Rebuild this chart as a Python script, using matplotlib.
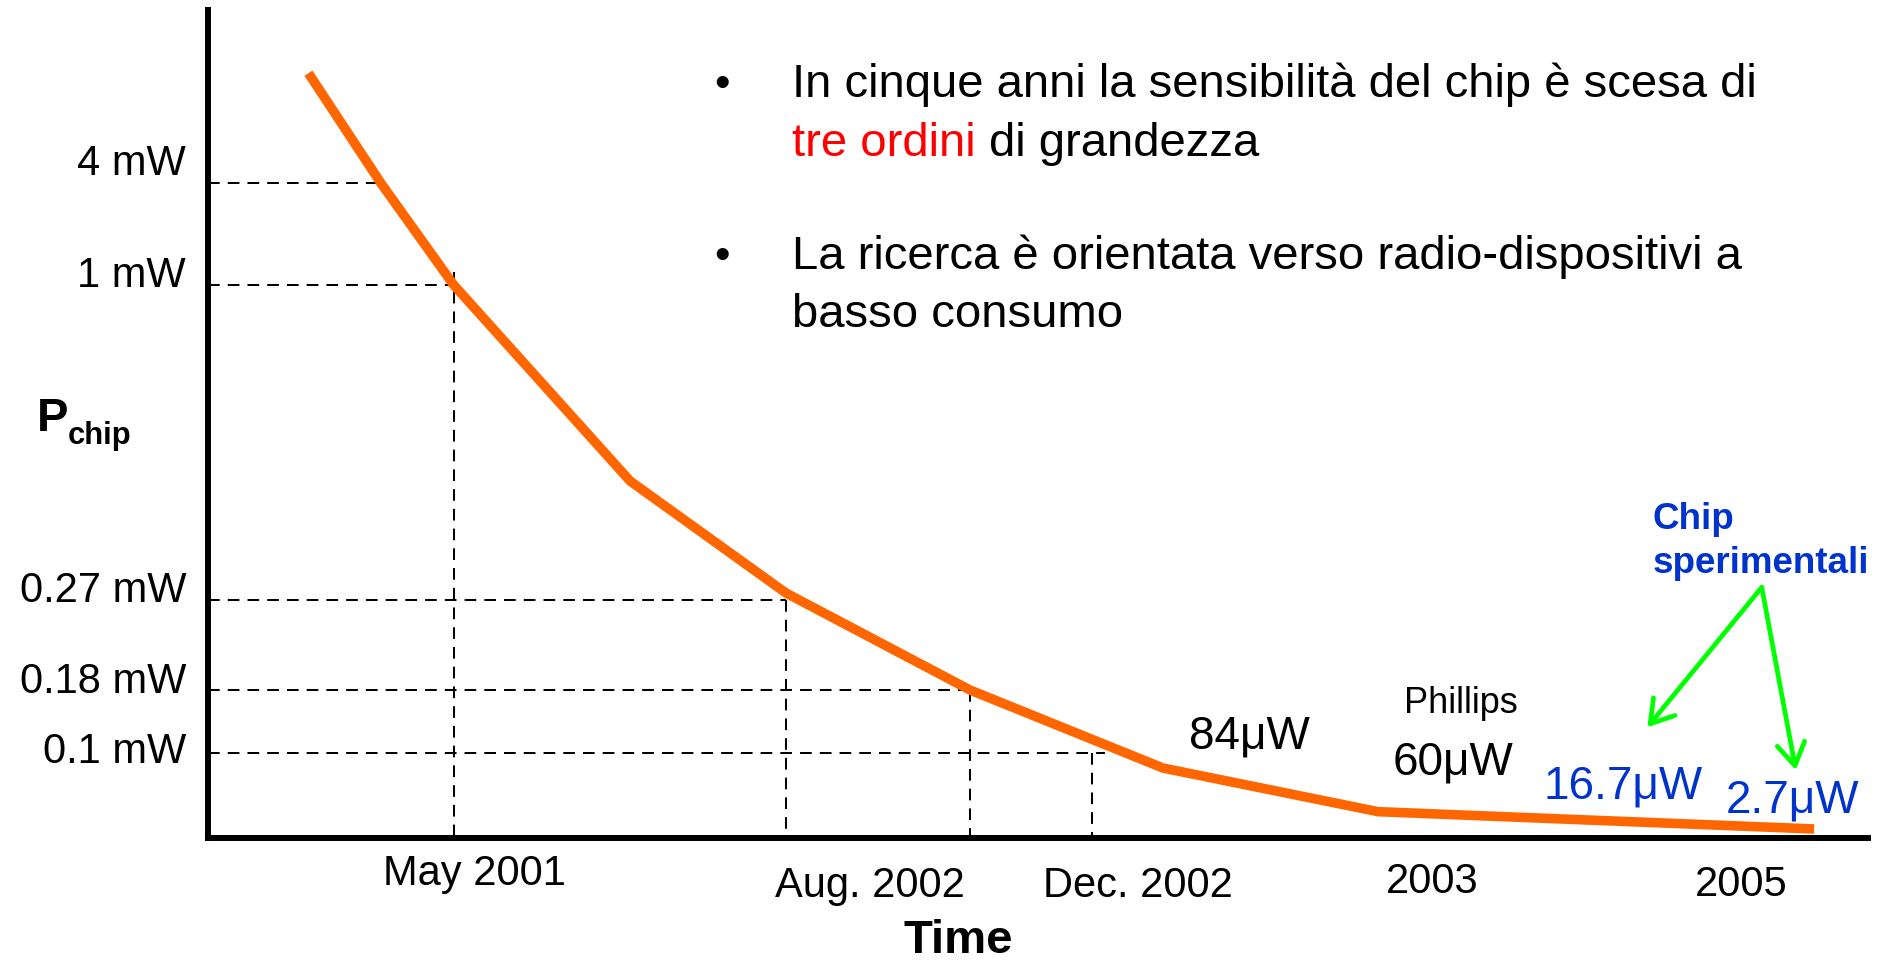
import matplotlib
matplotlib.use('Agg')
import matplotlib.pyplot as plt

# Power of the chip over time (schematic units: 0-100 along each axis)
curve_x = [6.07, 10.44, 14.82, 25.44, 34.83, 45.92, 57.54, 70.49, 96.75]
curve_y = [92.37, 79.07, 66.79, 43.12, 29.59, 17.87, 8.45, 3.18, 1.09]

# Reference power levels with their horizontal guides
level_labels = ['4 mW', '1 mW', '0.27 mW', '0.18 mW', '0.1 mW']
level_y = [79.07, 66.79, 28.74, 17.87, 10.27]
level_x_end = [10.56, 14.82, 34.83, 45.90, 54.05]

# Vertical guides dropping from the curve to the time axis
date_x = [14.82, 34.83, 45.90, 53.26]
date_y_top = [68.36, 28.74, 17.87, 10.27]

# Time axis labels
time_labels = ['May 2001', 'Aug. 2002', 'Dec. 2002', '2003', '2005']

# Power figures of individual chips
chip_values = ['84μW', '60μW', '16.7μW', '2.7μW']
chip_colors = ['black', 'black', '#0033CC', '#0033CC']

bullets = [
    ['In cinque anni la sensibilità del chip è scesa di', None],
    ['tre ordini', 'di grandezza'],
    ['La ricerca è orientata verso radio-dispositivi a', None],
    ['basso consumo', None],
]

plt.rcParams['font.family'] = ['Liberation Sans', 'DejaVu Sans']

ORANGE = '#FF6600'
BLUE = '#0033CC'
GREEN = '#00FF00'

fig = plt.figure(figsize=(18.81, 9.63), dpi=100)
ax = fig.add_axes([0.1104, 0.1298, 0.8827, 0.8598])
ax.set_xlim(0, 100)
ax.set_ylim(0, 100)
ax.set_xticks([])
ax.set_yticks([])
ax.patch.set_alpha(0)
for side in ('top', 'right'):
    ax.spines[side].set_visible(False)
for side in ('left', 'bottom'):
    ax.spines[side].set_linewidth(4.3)
    ax.spines[side].set_capstyle('projecting')
    ax.spines[side].set_color('black')

dash = (0, (5.8, 4.0))

# horizontal guides from the power axis to the curve
for y, xe in zip(level_y, level_x_end):
    ax.plot([0, xe], [y, y], color='black', lw=1.45, linestyle=dash,
            zorder=1, clip_on=False)

# vertical guides down to the time axis
for x, yt in zip(date_x, date_y_top):
    ax.plot([x, x], [yt, 0], color='black', lw=1.45, linestyle=dash,
            zorder=1, clip_on=False)

# the power curve
ax.plot(curve_x, curve_y, color=ORANGE, lw=6.9, solid_capstyle='butt',
        solid_joinstyle='miter', zorder=3, clip_on=False)

# power level labels
level_label_base = [80.07, 66.55, 28.5, 17.51, 9.06]
for lab, yb in zip(level_labels, level_label_base):
    ax.text(-1.3, yb, lab, ha='right', va='baseline', fontsize=30)

# axis titles
ax.text(-10.27, 49.1, 'P', ha='left', va='baseline', fontsize=34,
        fontweight='bold')
ax.text(-8.45, 47.6, 'chip', ha='left', va='baseline', fontsize=22.3,
        fontweight='bold')
ax.text(45.19, -13.85, 'Time', ha='center', va='baseline', fontsize=34,
        fontweight='bold')

# time labels
time_label_x = [16.05, 39.9, 56.03, 73.75, 92.35]
time_label_base = [-5.68, -7.13, -7.13, -6.64, -7.0]
for lab, x, yb in zip(time_labels, time_label_x, time_label_base):
    ax.text(x, yb, lab, ha='center', va='baseline', fontsize=30)

# chip values
chip_x = [59.1, 71.39, 80.43, 91.45]
chip_base = [10.87, 7.61, 4.83, 3.02]
for lab, x, yb, c in zip(chip_values, chip_x, chip_base, chip_colors):
    ax.text(x, yb, lab, ha='left', va='baseline', fontsize=33, color=c)
ax.text(72.05, 15.1, 'Phillips', ha='left', va='baseline', fontsize=26)

# experimental chips callout
ax.text(87.0, 37.3, 'Chip', ha='left', va='baseline', fontsize=26.5,
        fontweight='bold', color=BLUE)
ax.text(87.0, 32.05, 'sperimentali', ha='left', va='baseline', fontsize=26.5,
        fontweight='bold', color=BLUE)
origin = (93.6, 30.28)
for tip in [(86.71, 13.37), (95.65, 8.21)]:
    ax.annotate('', xy=tip, xytext=origin, xycoords='data',
                arrowprops=dict(arrowstyle='->,head_length=0.8,head_width=0.5',
                                color=GREEN, lw=3.4, mutation_scale=20,
                                shrinkA=0, shrinkB=0, capstyle='round',
                                joinstyle='round'),
                annotation_clip=False)

# bullet text
text_x = 35.2
bullet_x = 30.98
line_base = [89.55, 82.4, 68.72, 61.71]
for yb in (line_base[0], line_base[2]):
    ax.text(bullet_x, yb, '•', ha='center', va='baseline', fontsize=32)

fig.canvas.draw()
renderer = fig.canvas.get_renderer()
for (first, rest), yb in zip(bullets, line_base):
    color = 'red' if rest else 'black'
    t = ax.text(text_x, yb, first, ha='left', va='baseline', fontsize=34,
                color=color)
    if rest:
        probe = ax.text(text_x, yb, first + ' ' + rest, ha='left',
                        va='baseline', fontsize=34)
        tail = ax.text(text_x, yb, rest, ha='left', va='baseline', fontsize=34)
        w_all = probe.get_window_extent(renderer).width
        w_rest = tail.get_window_extent(renderer).width
        probe.remove()
        x0 = ax.transData.transform((text_x, yb))[0]
        x_rest = ax.transData.inverted().transform((x0 + w_all - w_rest, 0))[0]
        tail.set_x(x_rest)

fig.savefig('out.png', dpi=100)
